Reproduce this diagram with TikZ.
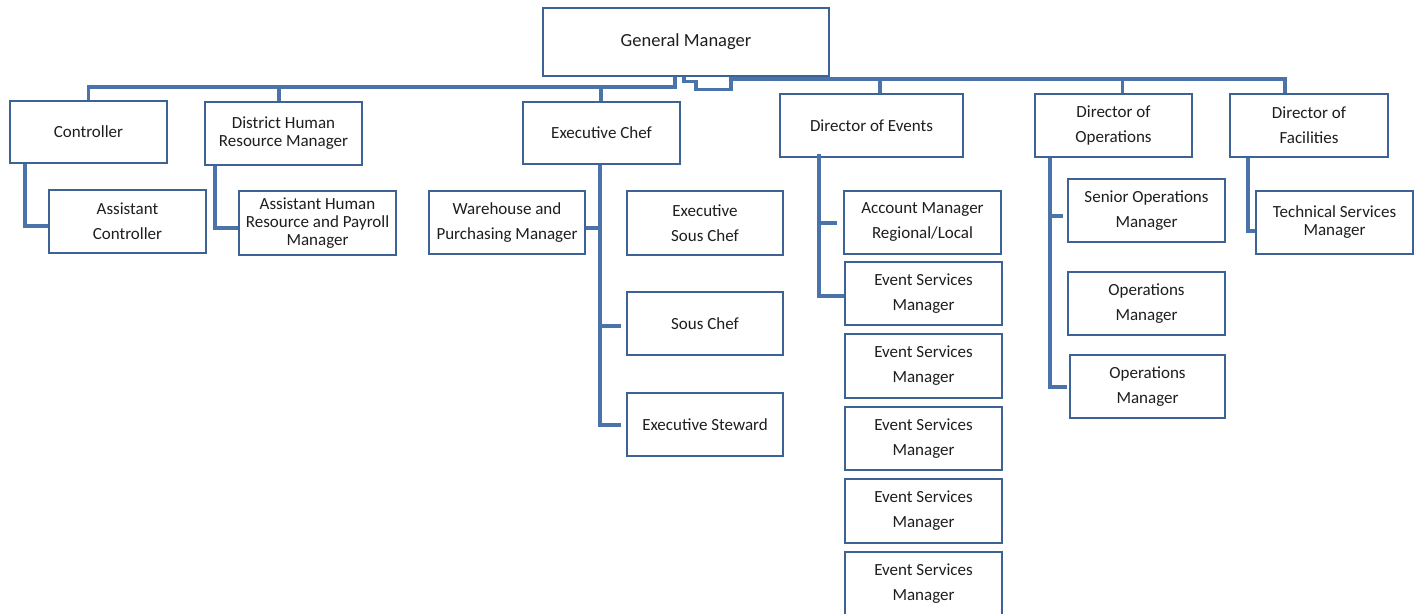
\documentclass[tikz,border=0pt]{standalone}
\usepackage{fontspec}
\setmainfont{Carlito}
\usetikzlibrary{calc}
\definecolor{boxc}{RGB}{61,98,148}
\definecolor{connc}{RGB}{74,115,170}
\definecolor{txt}{RGB}{30,30,30}
\begin{document}
\begin{tikzpicture}[x=1pt,y=-1pt,
  box/.style={draw=boxc, line width=2.8pt, fill=white, align=center, inner sep=0pt, text=txt,
    font=\fontsize{17}{25}\selectfont},
  tight/.style={font=\fontsize{17}{18}\selectfont},
  sz/.style 2 args={minimum width=#1, minimum height=#2},
  conn/.style={draw=connc, line width=3.8pt, line join=miter}]
\useasboundingbox (0,0) rectangle (1423,613);
% top level
\node[box, sz={286}{68}, font=\fontsize{18.5}{25}\selectfont] (gm) at (686,42) {General Manager};
\node[box, sz={157}{62}] (ctrl) at (88.5,132) {Controller};
\node[box, tight, sz={157}{63}] (dhr) at (283.5,133.5) {District Human\\Resource Manager};
\node[box, sz={157}{62}] (echef) at (601.5,133) {Executive Chef};
\node[box, sz={183}{63}] (devt) at (871.5,125.5) {Director of Events};
\node[box, sz={157}{63}] (dops) at (1113.5,125.5) {Director of\\Operations};
\node[box, sz={158}{63}] (dfac) at (1309,125.5) {Director of\\Facilities};
% second level
\node[box, sz={157}{63}] (actl) at (127.5,221.5) {Assistant\\Controller};
\node[box, tight, sz={157}{64}] (ahr) at (317.5,223) {Assistant Human\\Resource and Payroll\\Manager};
\node[box, sz={156}{63}] (whouse) at (507,222.5) {Warehouse and\\Purchasing Manager};
\node[box, sz={156}{64}] (esc) at (705,223) {Executive\\Sous Chef};
\node[box, sz={156}{63}] (sous) at (705,323.5) {Sous Chef};
\node[box, sz={156}{63}] (stew) at (705,424.5) {Executive Steward};
\node[box, sz={157}{63}] (acct) at (922.5,222.5) {Account Manager\\Regional/Local};
\node[box, sz={157}{63}] (esm1) at (923.5,293.5) {Event Services\\Manager};
\node[box, sz={157}{64}] (esm2) at (923.5,366) {Event Services\\Manager};
\node[box, sz={157}{63}] (esm3) at (923.5,438.5) {Event Services\\Manager};
\node[box, sz={157}{64}] (esm4) at (923.5,511) {Event Services\\Manager};
\node[box, sz={157}{63}] (esm5) at (923.5,583.5) {Event Services\\Manager};
\node[box, sz={157}{63}] (senior) at (1146.5,210.5) {Senior Operations\\Manager};
\node[box, sz={157}{63}] (ops1) at (1146.5,303.5) {Operations\\Manager};
\node[box, sz={155}{63}] (ops2) at (1147.5,386.5) {Operations\\Manager};
\node[box, tight, sz={157}{63}] (tech) at (1334.5,222.5) {Technical Services\\Manager};
% top buses
\draw[conn] ($(gm.south west)+(133,0)$) |- ($(ctrl.north)+(0,-13)$) -- (ctrl.north);
\draw[conn] ($(dhr.north)+(-4.5,-14)$) -- ($(dhr.north)+(-4.5,0)$);
\draw[conn] ($(echef.north)+(-0.5,-14)$) -- ($(echef.north)+(-0.5,0)$);
\draw[conn] ($(gm.south west)+(142,0)$) |- ++(12,4) |- ++(35,8) |- ($(dfac.north)+(-24,-14)$) -- ($(dfac.north)+(-24,0)$);
\draw[conn] ($(devt.north)+(8.5,-14)$) -- ($(devt.north)+(8.5,0)$);
\draw[conn] ($(dops.north)+(9,-14)$) -- ($(dops.north)+(9,0)$);
% controller
\draw[conn] ($(ctrl.south west)+(16,0)$) |- ($(actl.west)+(0,4.5)$);
% HR
\draw[conn] ($(dhr.south west)+(11,0)$) |- ($(ahr.west)+(0,5)$);
% executive chef
\draw[conn] ($(echef.south)+(-1.5,0)$) |- ($(stew.west)+(-5,0.5)$);
\draw[conn] ($(whouse.east)+(0,5.5)$) -- ($(whouse.east)+(15,5.5)$);
\draw[conn] ($(sous.west)+(-27,2.5)$) -- ($(sous.west)+(-5,2.5)$);
% events
\draw[conn] ($(devt.south)+(-52.5,-4)$) |- ($(esm1.west)+(0,2.5)$);
\draw[conn] ($(acct.west)+(-25,0.5)$) -- ($(acct.west)+(-6,0.5)$);
% operations
\draw[conn] ($(dops.south west)+(16,0)$) |- ($(ops2.west)+(-2,0.5)$);
\draw[conn] ($(senior.west)+(-17,5.5)$) -- ($(senior.west)+(-4,5.5)$);
% facilities
\draw[conn] ($(dfac.south west)+(19,0)$) |- ($(tech.west)+(0,8.5)$);
\end{tikzpicture}
\end{document}
